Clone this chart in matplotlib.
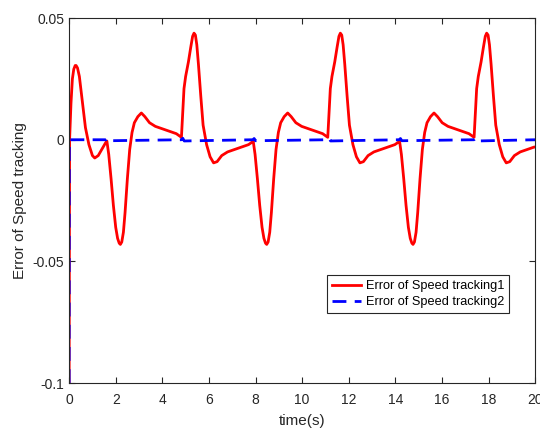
import matplotlib
matplotlib.use("Agg")
import matplotlib.pyplot as plt

plt.rcParams['font.family'] = ['Liberation Sans', 'DejaVu Sans']

# Error of Speed tracking1 (red)
t1 = [0.0, 0.02, 0.08, 0.14, 0.20, 0.26, 0.30, 0.36, 0.44, 0.55, 0.70, 0.85, 1.00, 1.10, 1.25, 1.40, 1.55,
      1.62, 1.70, 1.80, 1.90, 2.00, 2.08, 2.15, 2.20, 2.26, 2.33, 2.40, 2.50, 2.60, 2.70, 2.80, 2.95,
      3.10, 3.25, 3.45, 3.70, 4.00, 4.30, 4.60, 4.82, 4.87, 4.93, 5.00, 5.12, 5.22, 5.30, 5.36,
      5.42, 5.48, 5.55, 5.65, 5.75, 5.90, 6.05, 6.20, 6.35, 6.55, 6.80, 7.10, 7.40, 7.70, 7.88,
      7.90, 7.98, 8.08, 8.18, 8.28, 8.36, 8.43, 8.48, 8.54, 8.61, 8.68, 8.78, 8.88, 8.98, 9.08, 9.23,
      9.38, 9.53, 9.73, 9.98, 10.28, 10.58, 10.88, 11.10, 11.15, 11.21, 11.28, 11.40, 11.50, 11.58, 11.64,
      11.70, 11.76, 11.83, 11.93, 12.03, 12.18, 12.33, 12.48, 12.63, 12.83, 13.08, 13.38, 13.68, 13.98, 14.16,
      14.18, 14.26, 14.36, 14.46, 14.56, 14.64, 14.71, 14.76, 14.82, 14.89, 14.96, 15.06, 15.16, 15.26, 15.36, 15.51,
      15.66, 15.81, 16.01, 16.26, 16.56, 16.86, 17.16, 17.38, 17.43, 17.49, 17.56, 17.68, 17.78, 17.86, 17.92,
      17.98, 18.04, 18.11, 18.21, 18.31, 18.46, 18.61, 18.76, 18.91, 19.11, 19.36, 19.66, 19.96, 20.0]
e1 = [-0.1, 0.0, 0.015, 0.025, 0.029, 0.0305, 0.0305, 0.0295, 0.026, 0.017, 0.005, -0.002, -0.0065, -0.0075, -0.0065, -0.004, -0.0015,
      -0.0005, -0.006, -0.016, -0.027, -0.036, -0.0405, -0.0425, -0.043, -0.042, -0.038, -0.030, -0.016, -0.004, 0.003, 0.007, 0.0095,
      0.011, 0.0095, 0.007, 0.0055, 0.0045, 0.0035, 0.0025, 0.001, 0.010, 0.021, 0.026, 0.032, 0.038, 0.0425, 0.0438,
      0.043, 0.039, 0.031, 0.018, 0.006, -0.002, -0.007, -0.0095, -0.009, -0.0065, -0.005, -0.004, -0.003, -0.002, -0.0008,
      -0.0005, -0.006, -0.016, -0.027, -0.036, -0.0405, -0.0425, -0.043, -0.042, -0.038, -0.030, -0.016, -0.004, 0.003, 0.007, 0.0095,
      0.011, 0.0095, 0.007, 0.0055, 0.0045, 0.0035, 0.0025, 0.001, 0.010, 0.021, 0.026, 0.032, 0.038, 0.0425, 0.0438,
      0.043, 0.039, 0.031, 0.018, 0.006, -0.002, -0.007, -0.0095, -0.009, -0.0065, -0.005, -0.004, -0.003, -0.002, -0.0008,
      -0.0005, -0.006, -0.016, -0.027, -0.036, -0.0405, -0.0425, -0.043, -0.042, -0.038, -0.030, -0.016, -0.004, 0.003, 0.007, 0.0095,
      0.011, 0.0095, 0.007, 0.0055, 0.0045, 0.0035, 0.0025, 0.001, 0.010, 0.021, 0.026, 0.032, 0.038, 0.0425, 0.0438,
      0.043, 0.039, 0.031, 0.018, 0.006, -0.002, -0.007, -0.0095, -0.009, -0.0065, -0.005, -0.004, -0.003, -0.003]

# Error of Speed tracking2 (blue)
t2 = [0.0, 0.01, 1.60, 1.66, 1.72, 4.82, 4.88, 4.94, 7.88, 7.94, 8.00, 11.10, 11.16, 11.22,
      14.16, 14.22, 14.28, 17.38, 17.44, 17.50, 20.0]
e2 = [-0.1, 0.0, 0.0, 0.0005, -0.0004, 0.0, 0.0006, -0.0005, 0.0, 0.0005, -0.0004, 0.0, 0.0006, -0.0005,
      0.0, 0.0005, -0.0004, 0.0, 0.0006, -0.0005, 0.0]

xticks = [0, 2, 4, 6, 8, 10, 12, 14, 16, 18, 20]
yticks = [-0.1, -0.05, 0, 0.05]
ytick_labels = ['-0.1', '-0.05', '0', '0.05']

fig = plt.figure(figsize=(5.4, 4.3), dpi=100)
ax = fig.add_axes([0.128, 0.109, 0.863, 0.849])

ax.plot(t1, e1, color='#ff0000', lw=2.0, label='Error of Speed tracking1')
ax.plot(t2, e2, color='#0000ff', lw=2.0, ls=(0, (5, 3)), label='Error of Speed tracking2')

ax.set_xlim(0, 20)
ax.set_ylim(-0.1, 0.05)
ax.set_xticks(xticks)
ax.set_xticklabels([str(v) for v in xticks])
ax.set_yticks(yticks)
ax.set_yticklabels(ytick_labels)

ax.tick_params(direction='in', top=True, right=True, length=4, width=0.8,
               labelsize=10, colors='#262626', labelcolor='#262626')
ax.tick_params(axis='x', pad=7)
for s in ax.spines.values():
    s.set_color('#262626')
    s.set_linewidth(0.8)

ax.set_xlabel('time(s)', fontsize=11, color='#262626', labelpad=5)
ax.set_ylabel('Error of Speed tracking', fontsize=11, color='#262626', labelpad=4)

leg = ax.legend(loc='upper right', bbox_to_anchor=(0.944, 0.296), fontsize=9.2,
                frameon=True, fancybox=False, edgecolor='#262626', framealpha=1,
                handlelength=2.3, borderpad=0.4, labelspacing=0.3, handletextpad=0.35,
                borderaxespad=0)
leg.get_frame().set_linewidth(0.8)

fig.savefig('out.png', dpi=100)
